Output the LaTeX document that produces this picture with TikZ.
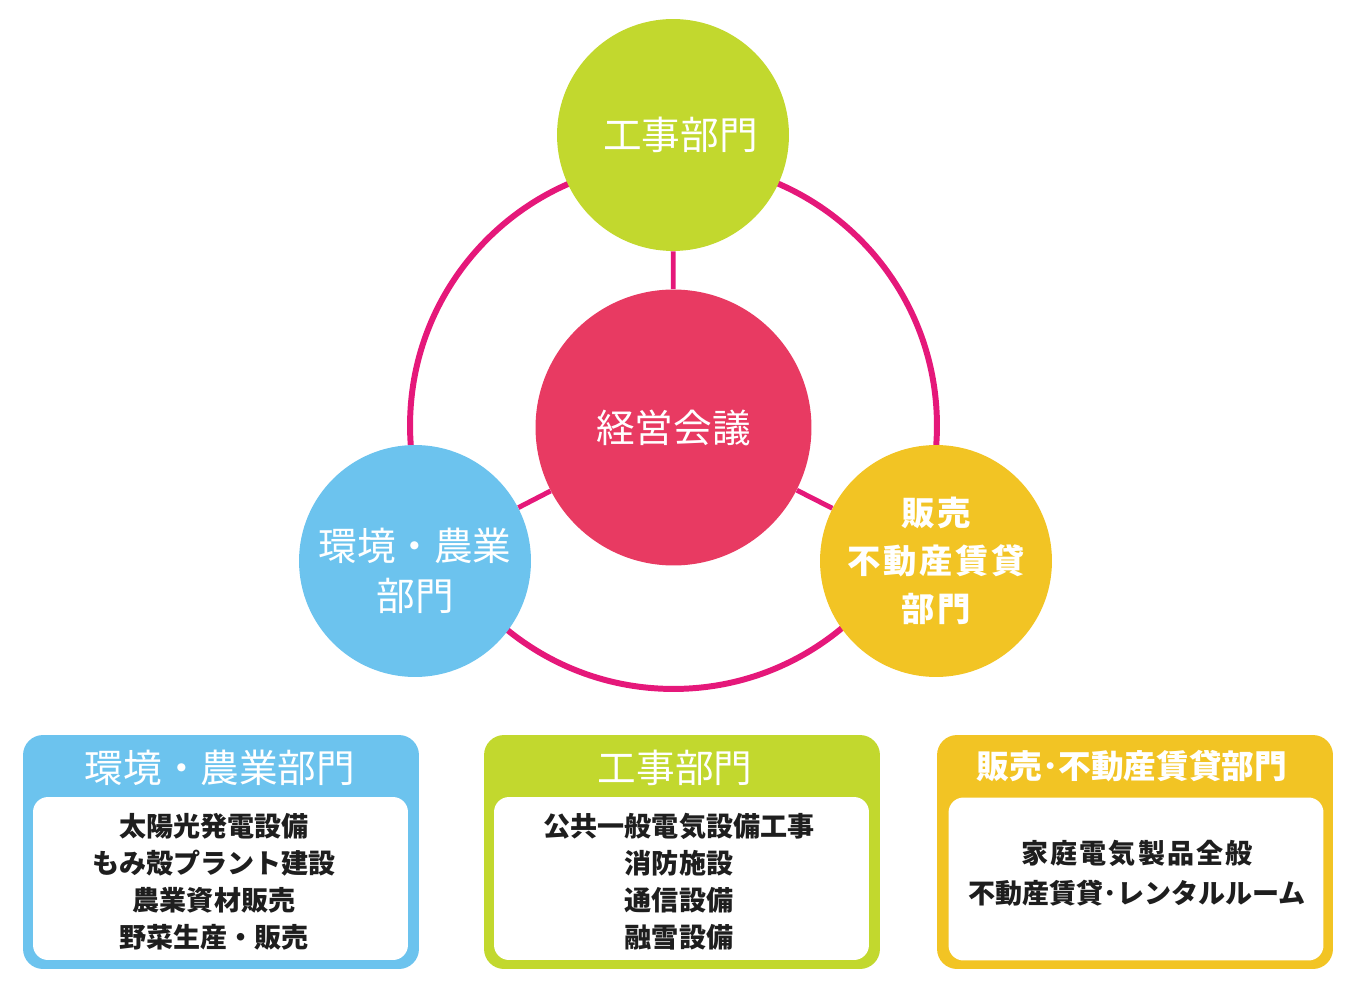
\documentclass[tikz,border=0pt]{standalone}
\usepackage{fontspec}
\newfontfamily\jp{Noto Sans CJK JP}
\newfontfamily\jpsp{Noto Sans CJK JP}[LetterSpace=8]
\usetikzlibrary{positioning}
\usepackage{xcolor}

\definecolor{ringpink}{RGB}{229,24,122}
\definecolor{keired}{RGB}{232,58,98}
\definecolor{kojigreen}{RGB}{194,216,46}
\definecolor{kanblue}{RGB}{108,195,238}
\definecolor{hanyellow}{RGB}{242,196,36}
\definecolor{bodytext}{RGB}{30,30,30}

\begin{document}
\begin{tikzpicture}[x=0.02cm, y=-0.02cm,
    dept/.style={circle, minimum size=4.64cm, inner sep=0pt, text=white, align=center},
    spoke/.style={line width=2.8pt, ringpink},
    outerbox/.style={rounded corners=0.4cm, minimum width=7.92cm, minimum height=4.68cm},
    innerbox/.style={fill=white, rounded corners=0.3cm, minimum width=7.5cm, minimum height=3.26cm},
    title/.style={text=white, font=\jp\fontsize{22}{26}\selectfont},
    body/.style={text=bodytext, align=center, font=\jp\bfseries\fontsize{15.4}{21}\selectfont}]
    \useasboundingbox (0,0) rectangle (1355,989);

    % Ring
    \coordinate (mid) at (673.5,425.5);
    \draw[ringpink, line width=3.4pt] (mid) circle[radius=5.27cm];

    % Circles
    \node[circle, minimum size=5.52cm, inner sep=0pt, fill=keired, text=white,
        font=\jp\fontsize{22}{26}\selectfont] (keiei) at (673.5,427.5) {経営会議};
    \node[dept, fill=kojigreen, font=\jp\fontsize{22}{26}\selectfont] (koji) at (673,135) {\hspace{0.3cm}工事部門};
    \node[dept, fill=kanblue, font=\jp\fontsize{22}{28.5}\selectfont] (kankyo) at (415,561)
        {\rule{0pt}{1.04cm}環境・農業\\部門};
    \node[dept, fill=hanyellow, font=\jpsp\bfseries\fontsize{19}{27.5}\selectfont] (hanbai) at (936,561) {販売\\不動産賃貸\\部門};

    % Spokes
    \draw[spoke] (koji) -- (keiei);
    \draw[spoke] (kankyo) -- (keiei);
    \draw[spoke] (hanbai) -- (keiei);

    % Environment / agriculture box
    \node[outerbox, fill=kanblue] (kan-box) at (221,852) {};
    \node[innerbox] (kan-in) at (220.5,878.5) {};
    \node[title] (kan-title) at (220,768) {環境・農業部門};
    \node[body] (kan-text) at (214,881.5) {太陽光発電設備\\もみ殻プラント建設\\農業資材販売\\野菜生産・販売};

    % Construction box
    \node[outerbox, fill=kojigreen] (koji-box) at (682,852) {};
    \node[innerbox] (koji-in) at (681.5,878.5) {};
    \node[title] (koji-title) at (675,768) {工事部門};
    \node[body] (koji-text) at (679,881.5) {公共一般電気設備工事\\消防施設\\通信設備\\融雪設備};

    % Sales / real estate box
    \node[outerbox, fill=hanyellow] (han-box) at (1135,852) {};
    \node[innerbox] (han-in) at (1136,879) {};
    \node[text=white, font=\jp\bfseries\fontsize{18.6}{22}\selectfont] (han-title) at (1132,766) {販売･不動産賃貸部門};
    \node[text=bodytext, align=center, font=\jp\bfseries\fontsize{15.4}{22.8}\selectfont] (han-text) at (1137,873)
        {{\jpsp 家庭電気製品全般}\\不動産賃貸･レンタルルーム};
\end{tikzpicture}
\end{document}
